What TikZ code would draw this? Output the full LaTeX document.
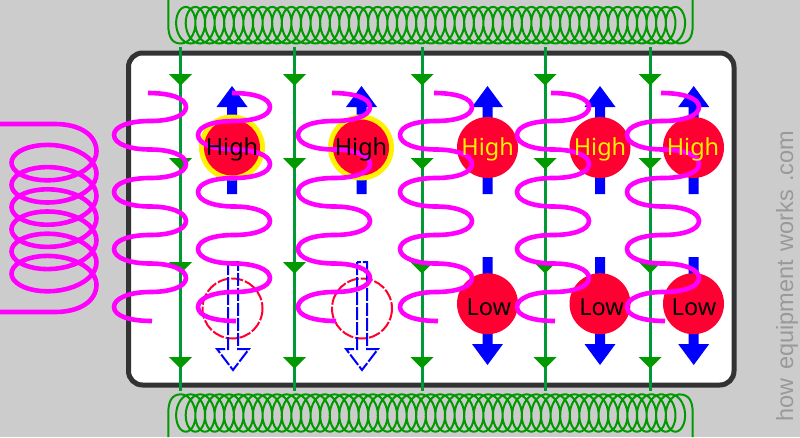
\documentclass[tikz,border=0pt]{standalone}
\usepackage{fontspec}
\setmainfont{Noto Sans}
\newfontfamily\wmfont[WordSpace=1.3]{Liberation Sans}
\definecolor{bgc}{HTML}{CCCCCC}
\definecolor{boxc}{HTML}{333333}
\definecolor{gline}{HTML}{009933}
\definecolor{gtri}{HTML}{009900}
\definecolor{redc}{HTML}{FF0033}
\definecolor{wmc}{HTML}{999999}
\definecolor{magc}{HTML}{FF00FF}
\definecolor{bluec}{HTML}{0000FF}
\tikzset{
  wavestyle/.style={draw=magc,line width=4.6pt},
  coilstyle/.style={draw=gtri,line width=2pt},
  blueshape/.style={fill=bluec},
  ghost/.style={draw=bluec,line width=2pt,fill=none,dash pattern=on 13pt off 2pt},
  ghostdisc/.style={draw=redc,line width=2pt,dash pattern=on 12pt off 2pt},
  spinlabel/.style={inner sep=0pt,anchor=base,font=\fontsize{23.5}{28}\selectfont},
}
\newcommand{\fieldline}[1]{
  \draw[gline,line width=3pt] (#1,47) -- (#1,391);
  \foreach \yy in {74,158,262,357}
    \fill[gtri] (#1-11.5,\yy) -- (#1+11.5,\yy) -- (#1,\yy+11.5) -- cycle;
}
\newcommand{\waveat}[1]{
  \begin{scope}[xshift=#1pt]
  \draw[wavestyle] (34,93) .. controls (56,93) and (72,98) .. (72,107)
    .. controls (72,116) and (56,121) .. (36,121)
    .. controls (16,121) and (0,126) .. (0,135)
    .. controls (0,144) and (16,149.5) .. (36,149.5)
    .. controls (56,149.5) and (72,155) .. (72,164)
    .. controls (72,173) and (56,178) .. (36,178)
    .. controls (16,178) and (0,183) .. (0,192)
    .. controls (0,201) and (16,206.5) .. (36,206.5)
    .. controls (56,206.5) and (72,212) .. (72,221)
    .. controls (72,230) and (56,235) .. (36,235)
    .. controls (16,235) and (0,240) .. (0,249)
    .. controls (0,258) and (16,263.5) .. (36,263.5)
    .. controls (56,263.5) and (72,269) .. (72,278)
    .. controls (72,287) and (56,292) .. (36,292)
    .. controls (16,292) and (0,298) .. (0,307)
    .. controls (0,316) and (16,321) .. (38,321);
  \end{scope}
}
\newcommand{\arrowup}[1]{
  \fill[blueshape] (#1-5,194) -- (#1-5,107) -- (#1-15.5,107) -- (#1,86) -- (#1+15.5,107) -- (#1+5,107) -- (#1+5,194) -- cycle;
}
\newcommand{\arrowdown}[1]{
  \fill[blueshape] (#1-5,257) -- (#1-5,344) -- (#1-15.5,344) -- (#1,365) -- (#1+15.5,344) -- (#1+5,344) -- (#1+5,257) -- cycle;
}
\newcommand{\ghostarrow}[1]{
  \draw[ghost] (#1-5,262) -- (#1-5,349) -- (#1-16,349) -- (#1,370) -- (#1+16,349) -- (#1+5,349) -- (#1+5,262) -- cycle;
}
\begin{document}
\begin{tikzpicture}[x=1pt,y=-1pt]
\useasboundingbox (0,0) rectangle (800,437);
\fill[bgc] (0,0) rectangle (800,437);
% box
\draw[boxc,fill=white,line width=5pt,rounded corners=14pt] (128.5,53) rectangle (734,385);
% field coils
\draw[coilstyle] (168.3,0) -- (168.3,25) .. controls (168.3,37) and (172,43.5) .. (181,43.5)
  -- plot[variable=\t,samples=1561,domain=0:52] ({181+9.6*\t+12*sin(mod(\t,1)*360)},{25.2+18.3*cos(mod(\t,1)*360)})
  .. controls (689,43.5) and (692.7,37) .. (692.7,25) -- (692.7,0);
\draw[coilstyle] (168.3,437) -- (168.3,413) .. controls (168.3,401) and (172,394.3) .. (181,394.3)
  -- plot[variable=\t,samples=1561,domain=0:52] ({181+9.6*\t+12*sin(mod(\t,1)*360)},{413-18.7*cos(mod(\t,1)*360)})
  .. controls (689,394.3) and (692.7,401) .. (692.7,413) -- (692.7,437);
% field lines
\fieldline{180.5}\fieldline{294.5}\fieldline{422}\fieldline{545}\fieldline{650}
% spin arrows
\arrowup{232}\arrowup{361.5}\arrowup{487.5}\arrowup{600}\arrowup{693.7}
\arrowdown{487.5}\arrowdown{600}\arrowdown{693.7}
% discs
\fill[yellow] (232,147.5) circle[radius=33];
\fill[yellow] (361,147.5) circle[radius=33];
\fill[redc] (232,147.5) circle[radius=28];
\fill[redc] (361,147.5) circle[radius=28];
\foreach \xx in {487.5,600,693.5} {
  \fill[redc] (\xx,147.5) circle[radius=30.5];
  \fill[redc] (\xx,303.7) circle[radius=30.5];
}
% ghost states
\draw[ghostdisc] (232.5,308.5) circle[radius=30];
\draw[ghostdisc] (362,308.5) circle[radius=30];
\ghostarrow{233}\ghostarrow{362}
% rf waves
\waveat{114}\waveat{198}\waveat{298}\waveat{400}\waveat{517}\waveat{627}
% rf coil
\draw[wavestyle] (0,124) -- (55,124) .. controls (80,124) and (96.5,135) .. (96.5,151.5)
  -- plot[variable=\t,samples=241,domain=0:6] ({54+42.5*cos(mod(\t,1)*360)},{151.5+22.2*\t+23*sin(mod(\t,1)*360)})
  .. controls (96.5,301) and (80,312) .. (55,312) -- (0,312);
% labels
\node[spinlabel] (h1) at (232,155) {High};
\node[spinlabel] (h2) at (361,155) {High};
\node[spinlabel,text=yellow] (h3) at (487.7,155) {High};
\node[spinlabel,text=yellow] (h4) at (600,155) {High};
\node[spinlabel,text=yellow] (h5) at (693,155) {High};
\node[spinlabel] (l3) at (488.8,315) {Low};
\node[spinlabel] (l4) at (601.6,315) {Low};
\node[spinlabel] (l5) at (694,315) {Low};
\node[rotate=90,anchor=base,inner sep=0pt,text=wmc,font=\wmfont\fontsize{23.5}{26}\selectfont] (wm) at (793,276) {how equipment works  .com};
\end{tikzpicture}
\end{document}
